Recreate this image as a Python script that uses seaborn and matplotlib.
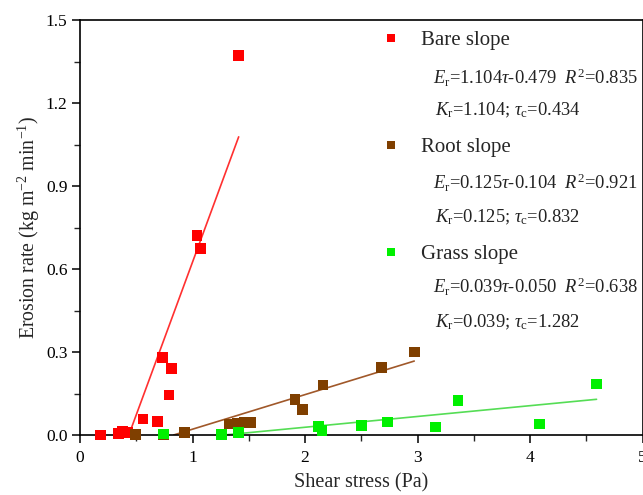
import numpy as np
import pandas as pd
import matplotlib
matplotlib.use("Agg")
import matplotlib.pyplot as plt
import seaborn as sns
from matplotlib.ticker import MultipleLocator

# ---------------- data ----------------
bare_x = [0.18, 0.34, 0.38, 0.42, 0.56, 0.69, 0.73, 0.79, 0.81, 1.04, 1.07, 1.41]
bare_y = [0.0, 0.005, 0.012, 0.008, 0.058, 0.05, 0.28, 0.145, 0.24, 0.72, 0.675, 1.373]
root_x = [0.49, 0.74, 0.93, 1.33, 1.40, 1.46, 1.52, 1.91, 1.98, 2.16, 2.68, 2.97]
root_y = [0.003, 0.003, 0.008, 0.04, 0.042, 0.045, 0.045, 0.127, 0.093, 0.181, 0.245, 0.30]
grass_x = [0.74, 1.26, 1.41, 2.12, 2.15, 2.50, 2.73, 3.16, 3.36, 4.08, 4.59]
grass_y = [0.004, 0.003, 0.01, 0.03, 0.015, 0.033, 0.047, 0.029, 0.126, 0.04, 0.184]

series = ["Bare slope", "Root slope", "Grass slope"]
slopes = [1.104, 0.125, 0.039]
intercepts = [-0.479, -0.104, -0.050]
r2 = ["0.835", "0.921", "0.638"]
tau_c = ["0.434", "0.832", "1.282"]
colors = ["#ff0000", "#7f3f00", "#00f000"]
line_colors = ["#ff3030", "#a0582a", "#55dd55"]

xticks = [0, 1, 2, 3, 4, 5]
yticks = [0.0, 0.3, 0.6, 0.9, 1.2, 1.5]

# ---------------- style ----------------
sns.set_theme(style="ticks")
plt.rcParams["font.family"] = ["Liberation Serif", "DejaVu Serif"]
plt.rcParams["mathtext.fontset"] = "custom"
plt.rcParams["mathtext.rm"] = "Liberation Serif"
plt.rcParams["mathtext.it"] = "Liberation Serif:italic"
plt.rcParams["mathtext.bf"] = "Liberation Serif:bold"

df = pd.DataFrame({
    "x": bare_x + root_x + grass_x,
    "y": bare_y + root_y + grass_y,
    "Slope": [series[0]] * len(bare_x) + [series[1]] * len(root_x) + [series[2]] * len(grass_x),
})

fig = plt.figure(figsize=(6.43, 4.95), dpi=100)
ax = fig.add_axes([80 / 643, 1 - 435 / 495, 563 / 643 - 0.0005, 415 / 495])

# fitted lines: from tau_c to max shear stress of each series
xs_all = [bare_x, root_x, grass_x]
for xs, k, b, c in zip(xs_all, slopes, intercepts, line_colors):
    x0 = -b / k
    xx = np.array([x0, max(xs)])
    ax.plot(xx, k * xx + b, color=c, lw=1.2, zorder=2)

sns.scatterplot(data=df, x="x", y="y", hue="Slope", hue_order=series,
                palette=colors, marker="s", s=60, linewidth=0, ax=ax,
                zorder=3, clip_on=False)

ax.set_xlim(0, 5)
ax.set_ylim(0, 1.5)
ax.set_xticks(xticks)
ax.set_yticks(yticks)
ax.set_xticklabels([str(t) for t in xticks])
ax.set_yticklabels([f"{t:.1f}" for t in yticks])
ax.xaxis.set_minor_locator(MultipleLocator(0.5))
ax.yaxis.set_minor_locator(MultipleLocator(0.15))
ax.tick_params(axis="both", which="major", direction="out", length=6, width=1.1,
               labelsize=12.5, colors="black")
ax.tick_params(axis="x", which="major", pad=5)
ax.tick_params(axis="y", which="major", pad=3)
ax.tick_params(axis="both", which="minor", direction="out", length=4, width=1.0)
for sp in ax.spines.values():
    sp.set_visible(True)
    sp.set_linewidth(1.2)
    sp.set_color("black")

ax.set_xlabel("Shear stress (Pa)", fontsize=14.5, labelpad=5)
ax.set_ylabel("Erosion rate (kg m$^{-2}$ min$^{-1}$)", fontsize=14.3, labelpad=3)

# legend (series names) with large spacing, equations added as text
handles, labels = ax.get_legend_handles_labels()
leg = ax.legend(handles, labels, loc="upper left", bbox_to_anchor=(0.498, 1.0),
                frameon=False, fontsize=15, labelspacing=4.2, markerscale=0.8,
                handletextpad=0.4, borderaxespad=0.1)

eq_y = [78, 110, 183, 217, 287, 322]
for i in range(3):
    k = slopes[i]
    b = intercepts[i]
    l1 = (r"$E_{\mathrm{r}}$=" + f"{k:.3f}" + r"$\tau$" + f"{b:.3f}" +
          r"  $R^{2}$=" + r2[i])
    l2 = r"$K_{\mathrm{r}}$=" + f"{k:.3f}" + r"; $\tau_{\mathrm{c}}$=" + tau_c[i]
    for j, txt in enumerate([l1, l2]):
        ypx = eq_y[2 * i + j]
        fig.text(433 / 643 if j == 0 else 435 / 643, 1 - ypx / 495, txt,
                 fontsize=13.3, va="center", ha="left", color="#222222")

fig.savefig("out.png", dpi=100)
